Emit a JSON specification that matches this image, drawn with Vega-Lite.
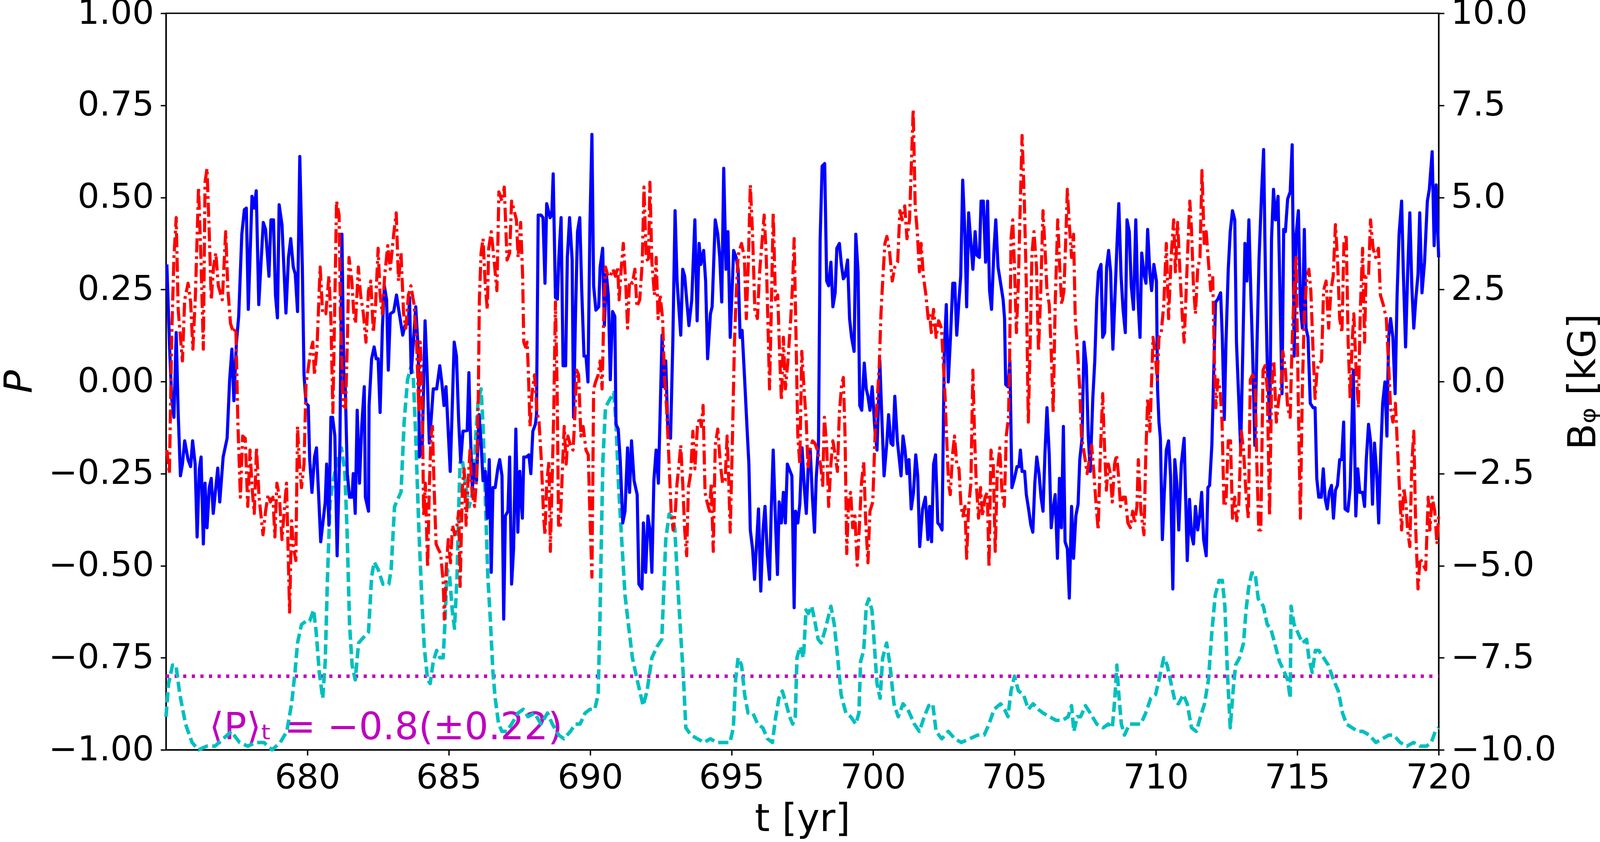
{
  "$schema": "https://vega.github.io/schema/vega-lite/v6.json",
  "width": 3258,
  "height": 1886,
  "autosize": {"type": "none"},
  "padding": {"left": 425, "top": 34, "right": 435, "bottom": 236},
  "background": "white",
  "config": {
    "view": {"stroke": "black", "strokeWidth": 3.5},
    "font": "DejaVu Sans",
    "axis": {
      "grid": false,
      "domainColor": "black",
      "domainWidth": 3.5,
      "tickColor": "black",
      "tickWidth": 3.5,
      "tickSize": 14,
      "labelColor": "black",
      "labelFont": "DejaVu Sans",
      "labelFontSize": 88,
      "labelLimit": 1000,
      "labelFlush": false,
      "labelOverlap": false,
      "titleFont": "DejaVu Sans",
      "titleFontSize": 98,
      "titleFontWeight": "normal",
      "titleColor": "black",
      "titleLimit": 1000,
      "titleBaseline": "alphabetic"
    }
  },
  "datasets": {
    "note": [{"t": 676.53, "v": -0.971, "label": "⟨P⟩ₜ = −0.8(±0.22)"}],
    "mean": [{"t": 675, "v": -0.8}, {"t": 720, "v": -0.8}],
    "polar": [
      {"t":675.00,"v":-0.91},{"t":675.09,"v":-0.82},{"t":675.23,"v":-0.77},{"t":675.35,"v":-0.77},{"t":675.49,"v":-0.85},
      {"t":675.69,"v":-0.93},{"t":675.92,"v":-0.98},{"t":676.15,"v":-1.00},{"t":676.44,"v":-0.99},{"t":676.73,"v":-0.99},
      {"t":677.02,"v":-0.97},{"t":677.31,"v":-0.95},{"t":677.60,"v":-0.98},{"t":677.89,"v":-0.99},{"t":678.17,"v":-0.98},
      {"t":678.46,"v":-0.98},{"t":678.75,"v":-1.00},{"t":679.04,"v":-0.98},{"t":679.27,"v":-0.95},{"t":679.44,"v":-0.875},
      {"t":679.56,"v":-0.79},{"t":679.65,"v":-0.71},{"t":679.79,"v":-0.66},{"t":679.96,"v":-0.65},{"t":680.08,"v":-0.65},
      {"t":680.22,"v":-0.62},{"t":680.31,"v":-0.68},{"t":680.42,"v":-0.79},{"t":680.54,"v":-0.86},{"t":680.63,"v":-0.76},
      {"t":680.71,"v":-0.53},{"t":680.80,"v":-0.33},{"t":680.89,"v":-0.28},{"t":681.03,"v":-0.22},{"t":681.20,"v":-0.18},
      {"t":681.32,"v":-0.24},{"t":681.40,"v":-0.40},{"t":681.49,"v":-0.66},{"t":681.58,"v":-0.77},{"t":681.69,"v":-0.81},
      {"t":681.81,"v":-0.71},{"t":681.92,"v":-0.70},{"t":682.16,"v":-0.68},{"t":682.27,"v":-0.53},{"t":682.36,"v":-0.49},
      {"t":682.50,"v":-0.51},{"t":682.67,"v":-0.55},{"t":682.88,"v":-0.55},{"t":682.96,"v":-0.51},{"t":683.08,"v":-0.34},
      {"t":683.19,"v":-0.32},{"t":683.31,"v":-0.30},{"t":683.42,"v":-0.11},{"t":683.54,"v":0.005},{"t":683.66,"v":0.04},
      {"t":683.74,"v":0.02},{"t":683.83,"v":-0.15},{"t":683.94,"v":-0.40},{"t":684.05,"v":-0.60},{"t":684.13,"v":-0.72},
      {"t":684.25,"v":-0.81},{"t":684.34,"v":-0.82},{"t":684.45,"v":-0.76},{"t":684.57,"v":-0.73},{"t":684.68,"v":-0.75},
      {"t":684.80,"v":-0.75},{"t":684.86,"v":-0.66},{"t":684.94,"v":-0.51},{"t":685.03,"v":-0.53},{"t":685.12,"v":-0.62},
      {"t":685.20,"v":-0.67},{"t":685.29,"v":-0.53},{"t":685.35,"v":-0.34},{"t":685.40,"v":-0.22},{"t":685.49,"v":-0.22},
      {"t":685.61,"v":-0.29},{"t":685.72,"v":-0.34},{"t":685.84,"v":-0.30},{"t":685.95,"v":-0.15},{"t":686.04,"v":-0.05},
      {"t":686.14,"v":-0.02},{"t":686.21,"v":-0.12},{"t":686.30,"v":-0.34},{"t":686.38,"v":-0.53},{"t":686.47,"v":-0.65},
      {"t":686.56,"v":-0.79},{"t":686.64,"v":-0.86},{"t":686.76,"v":-0.93},{"t":686.88,"v":-0.95},{"t":687.05,"v":-0.95},
      {"t":687.22,"v":-0.93},{"t":687.45,"v":-0.90},{"t":687.63,"v":-0.89},{"t":687.80,"v":-0.91},{"t":688.03,"v":-0.90},
      {"t":688.26,"v":-0.93},{"t":688.49,"v":-0.90},{"t":688.66,"v":-0.93},{"t":688.89,"v":-0.96},{"t":689.07,"v":-0.97},
      {"t":689.30,"v":-0.95},{"t":689.47,"v":-0.93},{"t":689.64,"v":-0.93},{"t":689.82,"v":-0.90},{"t":689.99,"v":-0.89},
      {"t":690.16,"v":-0.89},{"t":690.28,"v":-0.85},{"t":690.34,"v":-0.66},{"t":690.40,"v":-0.40},{"t":690.45,"v":-0.21},
      {"t":690.54,"v":-0.07},{"t":690.68,"v":-0.05},{"t":690.83,"v":-0.03},{"t":690.91,"v":-0.11},{"t":691.00,"v":-0.28},
      {"t":691.12,"v":-0.44},{"t":691.23,"v":-0.58},{"t":691.35,"v":-0.66},{"t":691.49,"v":-0.75},{"t":691.66,"v":-0.81},
      {"t":691.87,"v":-0.88},{"t":692.01,"v":-0.84},{"t":692.18,"v":-0.75},{"t":692.36,"v":-0.72},{"t":692.53,"v":-0.70},
      {"t":692.62,"v":-0.53},{"t":692.67,"v":-0.43},{"t":692.79,"v":-0.36},{"t":692.91,"v":-0.37},{"t":692.99,"v":-0.40},
      {"t":693.10,"v":-0.56},{"t":693.21,"v":-0.70},{"t":693.30,"v":-0.81},{"t":693.38,"v":-0.94},{"t":693.56,"v":-0.96},
      {"t":693.79,"v":-0.97},{"t":694.02,"v":-0.98},{"t":694.25,"v":-0.97},{"t":694.48,"v":-0.98},{"t":694.71,"v":-0.98},
      {"t":694.94,"v":-0.98},{"t":695.06,"v":-0.94},{"t":695.14,"v":-0.81},{"t":695.23,"v":-0.75},{"t":695.35,"v":-0.77},
      {"t":695.46,"v":-0.85},{"t":695.58,"v":-0.90},{"t":695.75,"v":-0.90},{"t":695.92,"v":-0.93},{"t":696.10,"v":-0.94},
      {"t":696.27,"v":-0.97},{"t":696.44,"v":-0.98},{"t":696.56,"v":-0.91},{"t":696.67,"v":-0.86},{"t":696.79,"v":-0.84},
      {"t":696.93,"v":-0.875},{"t":697.05,"v":-0.91},{"t":697.16,"v":-0.93},{"t":697.25,"v":-0.91},{"t":697.31,"v":-0.75},
      {"t":697.42,"v":-0.72},{"t":697.54,"v":-0.75},{"t":697.63,"v":-0.62},{"t":697.71,"v":-0.63},{"t":697.83,"v":-0.61},
      {"t":697.94,"v":-0.65},{"t":698.06,"v":-0.70},{"t":698.17,"v":-0.71},{"t":698.32,"v":-0.67},{"t":698.51,"v":-0.61},
      {"t":698.63,"v":-0.66},{"t":698.75,"v":-0.75},{"t":698.87,"v":-0.85},{"t":699.04,"v":-0.90},{"t":699.21,"v":-0.91},
      {"t":699.39,"v":-0.93},{"t":699.50,"v":-0.90},{"t":699.56,"v":-0.76},{"t":699.67,"v":-0.73},{"t":699.76,"v":-0.61},
      {"t":699.85,"v":-0.59},{"t":699.96,"v":-0.62},{"t":700.05,"v":-0.72},{"t":700.14,"v":-0.82},{"t":700.25,"v":-0.86},
      {"t":700.34,"v":-0.75},{"t":700.48,"v":-0.71},{"t":700.60,"v":-0.77},{"t":700.74,"v":-0.875},{"t":700.89,"v":-0.91},
      {"t":701.06,"v":-0.875},{"t":701.23,"v":-0.89},{"t":701.46,"v":-0.93},{"t":701.64,"v":-0.95},{"t":701.81,"v":-0.91},
      {"t":701.97,"v":-0.88},{"t":702.11,"v":-0.875},{"t":702.23,"v":-0.95},{"t":702.43,"v":-0.97},{"t":702.66,"v":-0.95},
      {"t":702.89,"v":-0.97},{"t":703.12,"v":-0.98},{"t":703.41,"v":-0.97},{"t":703.70,"v":-0.96},{"t":703.93,"v":-0.96},
      {"t":704.10,"v":-0.93},{"t":704.28,"v":-0.89},{"t":704.51,"v":-0.875},{"t":704.65,"v":-0.89},{"t":704.77,"v":-0.91},
      {"t":704.88,"v":-0.84},{"t":705.00,"v":-0.80},{"t":705.14,"v":-0.84},{"t":705.32,"v":-0.85},{"t":705.49,"v":-0.89},
      {"t":705.66,"v":-0.875},{"t":705.84,"v":-0.89},{"t":706.01,"v":-0.90},{"t":706.24,"v":-0.91},{"t":706.47,"v":-0.92},
      {"t":706.70,"v":-0.92},{"t":706.90,"v":-0.91},{"t":707.02,"v":-0.88},{"t":707.10,"v":-0.95},{"t":707.22,"v":-0.91},
      {"t":707.34,"v":-0.91},{"t":707.51,"v":-0.88},{"t":707.68,"v":-0.90},{"t":707.91,"v":-0.93},{"t":708.14,"v":-0.94},
      {"t":708.32,"v":-0.93},{"t":708.46,"v":-0.94},{"t":708.55,"v":-0.86},{"t":708.62,"v":-0.77},{"t":708.69,"v":-0.85},
      {"t":708.78,"v":-0.93},{"t":708.89,"v":-0.96},{"t":709.07,"v":-0.93},{"t":709.30,"v":-0.93},{"t":709.47,"v":-0.93},
      {"t":709.64,"v":-0.90},{"t":709.82,"v":-0.86},{"t":709.99,"v":-0.85},{"t":710.14,"v":-0.80},{"t":710.28,"v":-0.75},
      {"t":710.40,"v":-0.77},{"t":710.54,"v":-0.82},{"t":710.68,"v":-0.87},{"t":710.80,"v":-0.875},{"t":710.97,"v":-0.85},
      {"t":711.11,"v":-0.875},{"t":711.26,"v":-0.94},{"t":711.43,"v":-0.95},{"t":711.58,"v":-0.91},{"t":711.72,"v":-0.875},
      {"t":711.86,"v":-0.81},{"t":711.98,"v":-0.68},{"t":712.10,"v":-0.58},{"t":712.24,"v":-0.54},{"t":712.35,"v":-0.54},
      {"t":712.44,"v":-0.61},{"t":712.53,"v":-0.79},{"t":712.63,"v":-0.94},{"t":712.73,"v":-0.84},{"t":712.82,"v":-0.77},
      {"t":712.96,"v":-0.75},{"t":713.10,"v":-0.71},{"t":713.19,"v":-0.62},{"t":713.28,"v":-0.56},{"t":713.39,"v":-0.52},
      {"t":713.51,"v":-0.52},{"t":713.62,"v":-0.59},{"t":713.80,"v":-0.61},{"t":713.94,"v":-0.66},{"t":714.06,"v":-0.67},
      {"t":714.20,"v":-0.71},{"t":714.37,"v":-0.76},{"t":714.55,"v":-0.79},{"t":714.66,"v":-0.81},{"t":714.75,"v":-0.86},
      {"t":714.78,"v":-0.61},{"t":714.89,"v":-0.66},{"t":715.01,"v":-0.68},{"t":715.18,"v":-0.71},{"t":715.33,"v":-0.70},
      {"t":715.41,"v":-0.75},{"t":715.53,"v":-0.79},{"t":715.64,"v":-0.73},{"t":715.76,"v":-0.73},{"t":715.93,"v":-0.75},
      {"t":716.10,"v":-0.77},{"t":716.28,"v":-0.81},{"t":716.45,"v":-0.84},{"t":716.60,"v":-0.90},{"t":716.74,"v":-0.93},
      {"t":716.94,"v":-0.94},{"t":717.14,"v":-0.95},{"t":717.32,"v":-0.95},{"t":717.55,"v":-0.96},{"t":717.78,"v":-0.98},
      {"t":718.01,"v":-0.97},{"t":718.24,"v":-0.96},{"t":718.41,"v":-0.96},{"t":718.64,"v":-0.98},{"t":718.88,"v":-0.99},
      {"t":719.11,"v":-0.98},{"t":719.34,"v":-0.99},{"t":719.57,"v":-0.99},{"t":719.74,"v":-0.98},{"t":719.88,"v":-0.95},
      {"t":720.00,"v":-0.94}
    ],
    "blue": [
      {"t":675.03,"v":3.18},{"t":675.12,"v":1.07},{"t":675.20,"v":-0.46},{"t":675.28,"v":-0.97},{"t":675.36,"v":1.33},
      {"t":675.43,"v":-0.84},{"t":675.51,"v":-2.56},{"t":675.58,"v":-2.24},{"t":675.66,"v":-1.61},{"t":675.78,"v":-2.12},
      {"t":675.87,"v":-2.31},{"t":675.94,"v":-1.61},{"t":676.03,"v":-2.24},{"t":676.10,"v":-4.22},{"t":676.18,"v":-2.37},
      {"t":676.24,"v":-2.05},{"t":676.32,"v":-4.41},{"t":676.38,"v":-2.76},{"t":676.45,"v":-3.97},{"t":676.53,"v":-2.88},
      {"t":676.60,"v":-2.63},{"t":676.67,"v":-3.58},{"t":676.76,"v":-2.88},{"t":676.83,"v":-2.35},{"t":676.90,"v":-3.27},
      {"t":677.02,"v":-2.05},{"t":677.16,"v":-1.54},{"t":677.25,"v":0.05},{"t":677.33,"v":0.88},{"t":677.40,"v":-0.52},
      {"t":677.49,"v":1.07},{"t":677.57,"v":1.77},{"t":677.68,"v":4.00},{"t":677.77,"v":4.67},{"t":677.84,"v":4.71},
      {"t":677.91,"v":1.96},{"t":677.97,"v":3.37},{"t":678.04,"v":5.03},{"t":678.12,"v":4.71},{"t":678.19,"v":5.18},
      {"t":678.28,"v":2.09},{"t":678.36,"v":3.24},{"t":678.44,"v":4.32},{"t":678.52,"v":4.13},{"t":678.64,"v":2.86},
      {"t":678.71,"v":4.39},{"t":678.80,"v":4.39},{"t":678.87,"v":2.35},{"t":678.94,"v":1.73},{"t":679.00,"v":4.80},
      {"t":679.10,"v":4.26},{"t":679.24,"v":1.86},{"t":679.33,"v":3.37},{"t":679.41,"v":3.88},{"t":679.50,"v":3.11},
      {"t":679.57,"v":2.92},{"t":679.65,"v":1.90},{"t":679.73,"v":6.11},{"t":679.82,"v":3.11},{"t":679.88,"v":0.18},
      {"t":679.95,"v":-0.59},{"t":680.03,"v":-0.65},{"t":680.08,"v":-2.12},{"t":680.16,"v":-3.01},{"t":680.25,"v":-2.05},
      {"t":680.32,"v":-1.80},{"t":680.40,"v":-3.14},{"t":680.47,"v":-4.35},{"t":680.63,"v":-3.27},{"t":680.68,"v":-2.24},
      {"t":680.76,"v":-3.90},{"t":680.83,"v":-0.97},{"t":680.89,"v":-0.97},{"t":680.97,"v":-1.48},{"t":681.05,"v":-4.73},
      {"t":681.15,"v":-1.61},{"t":681.22,"v":4.00},{"t":681.29,"v":0.05},{"t":681.34,"v":-0.20},{"t":681.41,"v":-2.50},
      {"t":681.49,"v":-3.14},{"t":681.58,"v":-3.14},{"t":681.62,"v":-2.50},{"t":681.69,"v":-3.58},{"t":681.76,"v":-0.78},
      {"t":681.84,"v":-2.76},{"t":681.92,"v":-1.22},{"t":682.01,"v":-0.14},{"t":682.05,"v":-3.14},{"t":682.16,"v":-3.52},
      {"t":682.18,"v":-0.65},{"t":682.27,"v":0.62},{"t":682.36,"v":0.94},{"t":682.43,"v":0.62},{"t":682.50,"v":0.62},
      {"t":682.57,"v":-0.84},{"t":682.65,"v":1.45},{"t":682.72,"v":2.60},{"t":682.80,"v":2.22},{"t":682.86,"v":0.31},
      {"t":682.93,"v":1.84},{"t":683.05,"v":1.90},{"t":683.15,"v":2.35},{"t":683.25,"v":1.84},{"t":683.37,"v":1.26},
      {"t":683.45,"v":1.52},{"t":683.57,"v":1.58},{"t":683.61,"v":2.28},{"t":683.67,"v":0.24},{"t":683.77,"v":1.33},
      {"t":683.83,"v":2.03},{"t":683.92,"v":0.82},{"t":683.96,"v":-2.05},{"t":684.06,"v":-1.73},{"t":684.16,"v":1.65},
      {"t":684.23,"v":0.31},{"t":684.31,"v":-1.67},{"t":684.38,"v":-0.97},{"t":684.45,"v":-0.20},{"t":684.57,"v":-0.20},
      {"t":684.68,"v":0.43},{"t":684.76,"v":-0.08},{"t":684.83,"v":-0.65},{"t":684.90,"v":-0.14},{"t":684.97,"v":-1.22},
      {"t":685.05,"v":-2.44},{"t":685.12,"v":-0.71},{"t":685.19,"v":1.07},{"t":685.27,"v":0.69},{"t":685.35,"v":-1.10},
      {"t":685.42,"v":-2.18},{"t":685.50,"v":-1.35},{"t":685.65,"v":-1.33},{"t":685.71,"v":0.24},{"t":685.75,"v":-1.10},
      {"t":685.83,"v":-2.95},{"t":685.89,"v":-2.24},{"t":685.98,"v":-2.69},{"t":686.07,"v":-0.90},{"t":686.14,"v":-1.67},
      {"t":686.21,"v":-2.69},{"t":686.29,"v":-2.44},{"t":686.36,"v":-3.71},{"t":686.43,"v":-2.12},{"t":686.50,"v":-5.18},
      {"t":686.56,"v":-2.88},{"t":686.64,"v":-2.88},{"t":686.73,"v":-2.37},{"t":686.80,"v":-2.12},{"t":686.88,"v":-2.56},
      {"t":686.94,"v":-6.45},{"t":687.00,"v":-3.65},{"t":687.09,"v":-3.52},{"t":687.15,"v":-2.05},{"t":687.22,"v":-5.50},
      {"t":687.29,"v":-4.54},{"t":687.37,"v":-1.29},{"t":687.44,"v":-4.09},{"t":687.51,"v":-2.44},{"t":687.60,"v":-3.71},
      {"t":687.65,"v":-2.05},{"t":687.74,"v":-2.05},{"t":687.83,"v":-1.99},{"t":687.90,"v":-2.50},{"t":687.97,"v":-1.35},
      {"t":688.06,"v":-1.16},{"t":688.10,"v":-0.90},{"t":688.16,"v":4.52},{"t":688.26,"v":4.52},{"t":688.33,"v":4.45},
      {"t":688.40,"v":2.67},{"t":688.46,"v":4.83},{"t":688.58,"v":4.45},{"t":688.64,"v":4.52},{"t":688.69,"v":5.64},
      {"t":688.77,"v":2.28},{"t":688.84,"v":2.24},{"t":688.89,"v":3.37},{"t":688.97,"v":4.45},{"t":689.04,"v":0.43},
      {"t":689.13,"v":0.43},{"t":689.19,"v":3.37},{"t":689.27,"v":4.45},{"t":689.36,"v":3.30},{"t":689.41,"v":-0.97},
      {"t":689.48,"v":1.84},{"t":689.55,"v":4.07},{"t":689.63,"v":4.45},{"t":689.70,"v":2.47},{"t":689.78,"v":0.69},
      {"t":689.85,"v":0.69},{"t":689.92,"v":-0.01},{"t":689.99,"v":4.26},{"t":690.06,"v":6.71},{"t":690.12,"v":2.60},
      {"t":690.20,"v":1.94},{"t":690.30,"v":2.03},{"t":690.35,"v":3.11},{"t":690.44,"v":3.62},{"t":690.50,"v":1.52},
      {"t":690.57,"v":2.92},{"t":690.64,"v":2.35},{"t":690.71,"v":0.05},{"t":690.79,"v":1.90},{"t":690.87,"v":1.77},
      {"t":690.91,"v":-1.16},{"t":690.99,"v":-1.29},{"t":691.06,"v":-2.12},{"t":691.15,"v":-3.84},{"t":691.23,"v":-3.52},
      {"t":691.32,"v":-1.80},{"t":691.39,"v":-3.01},{"t":691.46,"v":-1.61},{"t":691.55,"v":-2.69},{"t":691.66,"v":-3.07},
      {"t":691.72,"v":-5.50},{"t":691.83,"v":-5.63},{"t":691.88,"v":-3.84},{"t":691.96,"v":-5.18},{"t":692.04,"v":-3.65},
      {"t":692.11,"v":-4.03},{"t":692.18,"v":-5.18},{"t":692.25,"v":-2.69},{"t":692.33,"v":-1.86},{"t":692.41,"v":-2.76},
      {"t":692.54,"v":1.26},{"t":692.60,"v":-0.14},{"t":692.67,"v":0.56},{"t":692.74,"v":-1.22},{"t":692.84,"v":-1.54},
      {"t":692.92,"v":1.07},{"t":693.00,"v":4.64},{"t":693.07,"v":2.73},{"t":693.20,"v":1.26},{"t":693.27,"v":3.05},
      {"t":693.34,"v":2.86},{"t":693.41,"v":2.22},{"t":693.49,"v":1.52},{"t":693.59,"v":2.22},{"t":693.70,"v":4.39},
      {"t":693.78,"v":1.65},{"t":693.85,"v":3.75},{"t":693.91,"v":3.18},{"t":694.01,"v":3.56},{"t":694.08,"v":2.73},
      {"t":694.15,"v":0.62},{"t":694.25,"v":1.84},{"t":694.31,"v":2.03},{"t":694.42,"v":4.39},{"t":694.51,"v":4.00},
      {"t":694.58,"v":3.37},{"t":694.65,"v":2.16},{"t":694.72,"v":5.79},{"t":694.80,"v":3.05},{"t":694.87,"v":4.07},
      {"t":694.95,"v":1.20},{"t":695.07,"v":3.56},{"t":695.16,"v":3.37},{"t":695.23,"v":3.05},{"t":695.30,"v":1.20},
      {"t":695.37,"v":1.39},{"t":695.46,"v":0.05},{"t":695.55,"v":-1.35},{"t":695.61,"v":-2.24},{"t":695.66,"v":-4.03},
      {"t":695.74,"v":-4.54},{"t":695.81,"v":-5.37},{"t":695.89,"v":-4.29},{"t":695.95,"v":-3.46},{"t":696.03,"v":-5.69},
      {"t":696.11,"v":-4.03},{"t":696.18,"v":-3.39},{"t":696.26,"v":-4.67},{"t":696.34,"v":-5.37},{"t":696.40,"v":-3.52},
      {"t":696.47,"v":-1.86},{"t":696.55,"v":-3.78},{"t":696.62,"v":-5.24},{"t":696.68,"v":-3.27},{"t":696.76,"v":-3.84},
      {"t":696.83,"v":-3.01},{"t":696.90,"v":-3.84},{"t":696.97,"v":-2.24},{"t":697.07,"v":-2.44},{"t":697.13,"v":-2.56},
      {"t":697.21,"v":-6.14},{"t":697.26,"v":-3.52},{"t":697.34,"v":-3.84},{"t":697.41,"v":-3.33},{"t":697.49,"v":-1.80},
      {"t":697.57,"v":-2.88},{"t":697.64,"v":-3.58},{"t":697.71,"v":-2.24},{"t":697.78,"v":-1.86},{"t":697.86,"v":-3.20},
      {"t":697.93,"v":-4.09},{"t":697.99,"v":-2.63},{"t":698.07,"v":-1.73},{"t":698.13,"v":3.88},{"t":698.20,"v":5.85},
      {"t":698.29,"v":5.92},{"t":698.36,"v":2.73},{"t":698.43,"v":2.60},{"t":698.51,"v":3.24},{"t":698.58,"v":2.03},
      {"t":698.66,"v":2.41},{"t":698.72,"v":3.62},{"t":698.81,"v":3.75},{"t":698.88,"v":3.18},{"t":698.95,"v":2.79},
      {"t":699.01,"v":2.86},{"t":699.10,"v":3.30},{"t":699.17,"v":1.71},{"t":699.24,"v":1.20},{"t":699.33,"v":0.82},
      {"t":699.39,"v":4.00},{"t":699.47,"v":2.98},{"t":699.53,"v":-0.65},{"t":699.60,"v":-0.78},{"t":699.69,"v":0.50},
      {"t":699.76,"v":-0.20},{"t":699.82,"v":-0.40},{"t":699.89,"v":-0.78},{"t":699.97,"v":-0.14},{"t":700.07,"v":-1.35},
      {"t":700.14,"v":-1.86},{"t":700.24,"v":0.56},{"t":700.31,"v":-0.97},{"t":700.39,"v":-2.56},{"t":700.48,"v":-1.73},
      {"t":700.55,"v":-0.90},{"t":700.63,"v":-1.67},{"t":700.70,"v":-1.73},{"t":700.77,"v":-0.40},{"t":700.86,"v":-1.61},
      {"t":700.92,"v":-2.05},{"t":700.99,"v":-2.56},{"t":701.06,"v":-1.48},{"t":701.13,"v":-1.86},{"t":701.20,"v":-2.50},
      {"t":701.27,"v":-2.12},{"t":701.35,"v":-3.46},{"t":701.43,"v":-3.01},{"t":701.51,"v":-1.99},{"t":701.58,"v":-2.56},
      {"t":701.65,"v":-4.48},{"t":701.75,"v":-3.46},{"t":701.85,"v":-3.14},{"t":701.94,"v":-4.29},{"t":702.00,"v":-3.39},
      {"t":702.07,"v":-4.35},{"t":702.14,"v":-2.24},{"t":702.21,"v":-1.99},{"t":702.29,"v":-3.84},{"t":702.36,"v":-3.90},
      {"t":702.44,"v":-4.03},{"t":702.52,"v":0.82},{"t":702.59,"v":2.09},{"t":702.66,"v":-0.01},{"t":702.73,"v":1.07},
      {"t":702.82,"v":2.67},{"t":702.89,"v":2.67},{"t":702.96,"v":1.26},{"t":703.04,"v":2.22},{"t":703.10,"v":2.86},
      {"t":703.17,"v":5.47},{"t":703.25,"v":4.00},{"t":703.31,"v":2.03},{"t":703.38,"v":4.58},{"t":703.46,"v":3.75},
      {"t":703.53,"v":3.05},{"t":703.61,"v":4.07},{"t":703.67,"v":3.43},{"t":703.76,"v":3.37},{"t":703.82,"v":4.90},
      {"t":703.90,"v":4.90},{"t":703.98,"v":3.24},{"t":704.05,"v":4.90},{"t":704.12,"v":2.47},{"t":704.19,"v":1.96},
      {"t":704.27,"v":3.49},{"t":704.34,"v":4.39},{"t":704.42,"v":3.11},{"t":704.51,"v":2.67},{"t":704.60,"v":2.22},
      {"t":704.65,"v":1.71},{"t":704.69,"v":-0.08},{"t":704.77,"v":-0.14},{"t":704.84,"v":0.56},{"t":704.91,"v":-2.88},
      {"t":705.00,"v":-2.63},{"t":705.09,"v":-2.31},{"t":705.16,"v":-2.31},{"t":705.21,"v":-1.86},{"t":705.27,"v":-2.44},
      {"t":705.36,"v":-2.44},{"t":705.42,"v":-3.07},{"t":705.50,"v":-3.46},{"t":705.58,"v":-3.90},{"t":705.65,"v":-4.09},
      {"t":705.72,"v":-2.76},{"t":705.79,"v":-2.05},{"t":705.87,"v":-2.50},{"t":705.94,"v":-3.14},{"t":706.01,"v":-3.52},
      {"t":706.08,"v":-1.93},{"t":706.15,"v":-0.71},{"t":706.23,"v":-1.99},{"t":706.30,"v":-3.97},{"t":706.37,"v":-3.46},
      {"t":706.44,"v":-3.07},{"t":706.52,"v":-4.80},{"t":706.59,"v":-2.63},{"t":706.66,"v":-3.97},{"t":706.73,"v":-1.22},
      {"t":706.79,"v":-4.35},{"t":706.87,"v":-4.54},{"t":706.94,"v":-5.88},{"t":707.02,"v":-3.39},{"t":707.09,"v":-4.80},
      {"t":707.17,"v":-3.65},{"t":707.25,"v":-3.33},{"t":707.31,"v":-2.12},{"t":707.39,"v":-1.54},{"t":707.46,"v":1.07},
      {"t":707.54,"v":0.43},{"t":707.61,"v":-1.48},{"t":707.68,"v":-2.44},{"t":707.77,"v":-0.46},{"t":707.84,"v":0.56},
      {"t":707.91,"v":2.22},{"t":707.97,"v":2.98},{"t":708.06,"v":3.18},{"t":708.12,"v":1.20},{"t":708.19,"v":1.33},
      {"t":708.26,"v":3.11},{"t":708.33,"v":3.56},{"t":708.40,"v":2.98},{"t":708.48,"v":0.88},{"t":708.55,"v":2.22},
      {"t":708.62,"v":3.62},{"t":708.69,"v":4.83},{"t":708.77,"v":2.86},{"t":708.84,"v":1.96},{"t":708.92,"v":1.33},
      {"t":708.98,"v":4.39},{"t":709.06,"v":4.07},{"t":709.13,"v":2.60},{"t":709.21,"v":1.96},{"t":709.29,"v":4.39},
      {"t":709.36,"v":2.35},{"t":709.44,"v":1.20},{"t":709.50,"v":3.49},{"t":709.58,"v":2.92},{"t":709.65,"v":2.67},
      {"t":709.71,"v":4.13},{"t":709.79,"v":2.92},{"t":709.85,"v":2.47},{"t":709.93,"v":3.18},{"t":710.02,"v":2.73},
      {"t":710.06,"v":-0.20},{"t":710.11,"v":-1.10},{"t":710.16,"v":-1.54},{"t":710.23,"v":-4.29},{"t":710.30,"v":-3.01},
      {"t":710.37,"v":-1.86},{"t":710.45,"v":-1.61},{"t":710.52,"v":-2.56},{"t":710.60,"v":-5.63},{"t":710.67,"v":-2.12},
      {"t":710.74,"v":-2.76},{"t":710.81,"v":-4.03},{"t":710.90,"v":-2.24},{"t":711.00,"v":-1.54},{"t":711.11,"v":-4.86},
      {"t":711.19,"v":-3.20},{"t":711.26,"v":-4.16},{"t":711.33,"v":-4.41},{"t":711.40,"v":-3.39},{"t":711.48,"v":-4.03},
      {"t":711.55,"v":-3.65},{"t":711.62,"v":-3.01},{"t":711.69,"v":-4.29},{"t":711.78,"v":-4.73},{"t":711.84,"v":-2.88},
      {"t":711.90,"v":-2.82},{"t":711.98,"v":-1.73},{"t":712.04,"v":0.05},{"t":712.11,"v":2.16},{"t":712.18,"v":2.22},
      {"t":712.29,"v":2.41},{"t":712.35,"v":1.20},{"t":712.42,"v":-1.03},{"t":712.48,"v":1.07},{"t":712.56,"v":3.05},
      {"t":712.63,"v":4.07},{"t":712.71,"v":4.64},{"t":712.79,"v":4.39},{"t":712.85,"v":1.07},{"t":712.93,"v":-0.46},
      {"t":713.00,"v":-1.86},{"t":713.08,"v":1.07},{"t":713.15,"v":3.75},{"t":713.22,"v":2.73},{"t":713.29,"v":4.39},
      {"t":713.36,"v":2.35},{"t":713.42,"v":0.82},{"t":713.50,"v":-1.73},{"t":713.57,"v":0.82},{"t":713.65,"v":3.37},
      {"t":713.74,"v":5.15},{"t":713.81,"v":6.30},{"t":713.88,"v":2.60},{"t":713.94,"v":0.43},{"t":714.03,"v":-1.10},
      {"t":714.09,"v":3.88},{"t":714.16,"v":5.22},{"t":714.23,"v":4.39},{"t":714.32,"v":5.03},{"t":714.39,"v":2.35},
      {"t":714.46,"v":-0.33},{"t":714.52,"v":4.13},{"t":714.58,"v":4.07},{"t":714.66,"v":4.96},{"t":714.75,"v":5.15},
      {"t":714.82,"v":6.43},{"t":714.89,"v":0.69},{"t":714.96,"v":4.00},{"t":715.04,"v":4.64},{"t":715.11,"v":2.09},
      {"t":715.18,"v":1.45},{"t":715.25,"v":4.13},{"t":715.31,"v":1.45},{"t":715.38,"v":1.20},{"t":715.46,"v":-0.59},
      {"t":715.56,"v":-0.71},{"t":715.63,"v":-0.71},{"t":715.69,"v":-2.63},{"t":715.76,"v":-3.14},{"t":715.85,"v":-3.14},
      {"t":715.92,"v":-2.37},{"t":715.99,"v":-3.20},{"t":716.06,"v":-3.46},{"t":716.13,"v":-3.01},{"t":716.21,"v":-2.82},
      {"t":716.28,"v":-3.71},{"t":716.35,"v":-2.95},{"t":716.42,"v":-2.82},{"t":716.50,"v":-2.12},{"t":716.57,"v":-2.12},
      {"t":716.64,"v":-1.10},{"t":716.69,"v":-3.46},{"t":716.79,"v":-3.52},{"t":716.87,"v":-2.88},{"t":716.93,"v":-1.22},
      {"t":716.98,"v":0.31},{"t":717.07,"v":-3.65},{"t":717.14,"v":-2.37},{"t":717.21,"v":-3.01},{"t":717.31,"v":-3.01},
      {"t":717.38,"v":-3.39},{"t":717.44,"v":-2.12},{"t":717.52,"v":-1.16},{"t":717.59,"v":-1.61},{"t":717.66,"v":-3.33},
      {"t":717.73,"v":-1.67},{"t":717.81,"v":-2.50},{"t":717.88,"v":-3.84},{"t":717.95,"v":-1.99},{"t":718.02,"v":-0.59},
      {"t":718.10,"v":-0.01},{"t":718.17,"v":-1.48},{"t":718.23,"v":1.20},{"t":718.30,"v":1.71},{"t":718.38,"v":1.20},
      {"t":718.46,"v":-0.33},{"t":718.53,"v":2.35},{"t":718.60,"v":4.00},{"t":718.69,"v":4.90},{"t":718.75,"v":2.98},
      {"t":718.83,"v":0.94},{"t":718.90,"v":2.86},{"t":718.98,"v":4.58},{"t":719.05,"v":2.60},{"t":719.12,"v":1.45},
      {"t":719.19,"v":2.22},{"t":719.27,"v":2.92},{"t":719.33,"v":4.58},{"t":719.41,"v":2.41},{"t":719.50,"v":3.24},
      {"t":719.60,"v":4.90},{"t":719.67,"v":5.22},{"t":719.77,"v":6.24},{"t":719.84,"v":3.69},{"t":719.91,"v":5.34},
      {"t":720.00,"v":3.37}
    ],
    "red": [
      {"t":675.03,"v":-1.86},{"t":675.12,"v":-2.50},{"t":675.20,"v":1.20},{"t":675.28,"v":3.37},{"t":675.36,"v":4.45},
      {"t":675.43,"v":1.96},{"t":675.51,"v":1.20},{"t":675.58,"v":0.56},{"t":675.66,"v":2.22},{"t":675.78,"v":2.67},
      {"t":675.87,"v":2.16},{"t":675.95,"v":0.88},{"t":676.04,"v":2.35},{"t":676.15,"v":5.28},{"t":676.24,"v":3.24},
      {"t":676.32,"v":0.88},{"t":676.38,"v":5.41},{"t":676.45,"v":5.79},{"t":676.53,"v":4.00},{"t":676.60,"v":2.22},
      {"t":676.68,"v":3.11},{"t":676.76,"v":3.49},{"t":676.85,"v":2.60},{"t":676.99,"v":2.22},{"t":677.11,"v":4.07},
      {"t":677.19,"v":2.47},{"t":677.28,"v":1.58},{"t":677.38,"v":1.33},{"t":677.47,"v":1.45},{"t":677.54,"v":-1.10},
      {"t":677.63,"v":-3.14},{"t":677.71,"v":-1.48},{"t":677.80,"v":-1.54},{"t":677.89,"v":-3.39},{"t":677.97,"v":-1.86},
      {"t":678.05,"v":-2.95},{"t":678.12,"v":-3.58},{"t":678.20,"v":-1.80},{"t":678.29,"v":-3.14},{"t":678.43,"v":-4.16},
      {"t":678.52,"v":-3.52},{"t":678.61,"v":-3.07},{"t":678.69,"v":-3.27},{"t":678.78,"v":-3.14},{"t":678.85,"v":-4.22},
      {"t":678.92,"v":-2.76},{"t":679.01,"v":-3.14},{"t":679.10,"v":-4.29},{"t":679.18,"v":-3.52},{"t":679.26,"v":-2.76},
      {"t":679.32,"v":-4.67},{"t":679.37,"v":-6.26},{"t":679.44,"v":-3.78},{"t":679.51,"v":-4.54},{"t":679.59,"v":-4.86},
      {"t":679.65,"v":-1.22},{"t":679.72,"v":-2.24},{"t":679.79,"v":-2.88},{"t":679.88,"v":-2.24},{"t":679.95,"v":-0.08},
      {"t":680.02,"v":0.31},{"t":680.11,"v":0.82},{"t":680.19,"v":1.07},{"t":680.25,"v":0.18},{"t":680.34,"v":0.94},
      {"t":680.45,"v":3.11},{"t":680.54,"v":1.84},{"t":680.65,"v":1.84},{"t":680.76,"v":2.86},{"t":680.83,"v":1.71},
      {"t":680.90,"v":-0.84},{"t":680.97,"v":2.22},{"t":681.03,"v":4.90},{"t":681.12,"v":4.52},{"t":681.17,"v":1.71},
      {"t":681.26,"v":-0.65},{"t":681.35,"v":-0.71},{"t":681.42,"v":1.33},{"t":681.47,"v":3.37},{"t":681.57,"v":2.73},
      {"t":681.64,"v":1.84},{"t":681.70,"v":1.58},{"t":681.80,"v":3.11},{"t":681.88,"v":2.35},{"t":681.98,"v":1.84},
      {"t":682.07,"v":1.07},{"t":682.16,"v":2.47},{"t":682.24,"v":2.73},{"t":682.33,"v":1.33},{"t":682.41,"v":2.09},
      {"t":682.50,"v":3.62},{"t":682.57,"v":2.35},{"t":682.65,"v":1.84},{"t":682.73,"v":2.86},{"t":682.84,"v":3.69},
      {"t":682.93,"v":3.05},{"t":683.05,"v":4.00},{"t":683.14,"v":4.58},{"t":683.22,"v":2.73},{"t":683.31,"v":3.49},
      {"t":683.40,"v":1.84},{"t":683.48,"v":1.45},{"t":683.57,"v":2.35},{"t":683.66,"v":2.60},{"t":683.77,"v":2.09},
      {"t":683.86,"v":1.07},{"t":683.94,"v":-0.84},{"t":683.99,"v":1.07},{"t":684.06,"v":-0.59},{"t":684.11,"v":-3.65},
      {"t":684.17,"v":-2.76},{"t":684.25,"v":-5.05},{"t":684.31,"v":-2.88},{"t":684.37,"v":-1.48},{"t":684.42,"v":-1.22},
      {"t":684.48,"v":-2.88},{"t":684.55,"v":-4.41},{"t":684.62,"v":-4.54},{"t":684.71,"v":-4.67},{"t":684.80,"v":-5.43},
      {"t":684.84,"v":-6.45},{"t":684.91,"v":-5.05},{"t":684.98,"v":-4.29},{"t":685.06,"v":-4.92},{"t":685.13,"v":-3.90},
      {"t":685.21,"v":-4.16},{"t":685.29,"v":-3.90},{"t":685.35,"v":-3.52},{"t":685.40,"v":-5.56},{"t":685.48,"v":-2.88},
      {"t":685.54,"v":-2.37},{"t":685.61,"v":-3.90},{"t":685.67,"v":-2.88},{"t":685.75,"v":-1.86},{"t":685.82,"v":-3.01},
      {"t":685.91,"v":-3.39},{"t":685.98,"v":-2.63},{"t":686.04,"v":-0.59},{"t":686.08,"v":2.22},{"t":686.14,"v":3.49},
      {"t":686.21,"v":3.88},{"t":686.29,"v":2.60},{"t":686.36,"v":1.96},{"t":686.41,"v":3.62},{"t":686.50,"v":4.07},
      {"t":686.59,"v":3.37},{"t":686.70,"v":2.47},{"t":686.77,"v":5.15},{"t":686.88,"v":4.90},{"t":686.96,"v":5.28},
      {"t":687.06,"v":3.30},{"t":687.15,"v":3.49},{"t":687.22,"v":4.90},{"t":687.31,"v":4.64},{"t":687.39,"v":4.39},
      {"t":687.45,"v":3.37},{"t":687.54,"v":4.32},{"t":687.61,"v":2.86},{"t":687.65,"v":1.07},{"t":687.71,"v":0.94},
      {"t":687.77,"v":1.07},{"t":687.81,"v":0.31},{"t":687.87,"v":-1.22},{"t":687.94,"v":-0.33},{"t":688.03,"v":0.18},
      {"t":688.12,"v":-0.84},{"t":688.19,"v":-1.10},{"t":688.27,"v":-2.12},{"t":688.35,"v":-3.65},{"t":688.40,"v":-4.16},
      {"t":688.46,"v":-2.76},{"t":688.54,"v":-2.18},{"t":688.59,"v":-4.61},{"t":688.65,"v":-2.76},{"t":688.71,"v":-0.84},
      {"t":688.77,"v":2.16},{"t":688.83,"v":-0.20},{"t":688.88,"v":-3.90},{"t":688.94,"v":-3.90},{"t":689.01,"v":-2.50},
      {"t":689.08,"v":-1.22},{"t":689.15,"v":-2.24},{"t":689.21,"v":-1.48},{"t":689.30,"v":-1.73},{"t":689.39,"v":-1.86},
      {"t":689.44,"v":-1.22},{"t":689.52,"v":0.31},{"t":689.59,"v":0.18},{"t":689.67,"v":-1.48},{"t":689.75,"v":-1.22},
      {"t":689.85,"v":-1.86},{"t":689.93,"v":-1.99},{"t":689.99,"v":-3.65},{"t":690.06,"v":-5.31},{"t":690.12,"v":-0.20},
      {"t":690.19,"v":-0.01},{"t":690.28,"v":0.18},{"t":690.35,"v":0.56},{"t":690.42,"v":-0.20},{"t":690.48,"v":1.84},
      {"t":690.54,"v":3.11},{"t":690.63,"v":2.86},{"t":690.71,"v":2.86},{"t":690.80,"v":3.05},{"t":690.89,"v":2.86},
      {"t":690.97,"v":3.11},{"t":691.02,"v":2.22},{"t":691.10,"v":3.11},{"t":691.17,"v":3.75},{"t":691.26,"v":2.60},
      {"t":691.32,"v":1.45},{"t":691.39,"v":2.73},{"t":691.49,"v":2.67},{"t":691.58,"v":3.05},{"t":691.65,"v":2.03},
      {"t":691.75,"v":2.22},{"t":691.84,"v":3.24},{"t":691.90,"v":5.28},{"t":691.98,"v":3.37},{"t":692.06,"v":3.24},
      {"t":692.11,"v":5.41},{"t":692.18,"v":3.24},{"t":692.27,"v":2.35},{"t":692.33,"v":3.37},{"t":692.40,"v":1.71},
      {"t":692.47,"v":2.35},{"t":692.56,"v":1.71},{"t":692.62,"v":0.18},{"t":692.70,"v":-0.71},{"t":692.79,"v":-2.24},
      {"t":692.86,"v":-3.52},{"t":692.93,"v":-4.03},{"t":693.01,"v":-3.52},{"t":693.07,"v":-2.76},{"t":693.14,"v":-2.24},
      {"t":693.20,"v":-1.73},{"t":693.27,"v":-2.76},{"t":693.34,"v":-4.03},{"t":693.41,"v":-4.73},{"t":693.47,"v":-2.88},
      {"t":693.55,"v":-2.50},{"t":693.63,"v":-1.35},{"t":693.70,"v":-2.37},{"t":693.79,"v":-1.22},{"t":693.87,"v":-0.97},
      {"t":693.93,"v":-1.22},{"t":693.99,"v":-0.65},{"t":694.06,"v":-3.01},{"t":694.13,"v":-3.27},{"t":694.22,"v":-3.52},
      {"t":694.28,"v":-2.76},{"t":694.35,"v":-4.61},{"t":694.42,"v":-1.73},{"t":694.51,"v":-1.29},{"t":694.60,"v":-2.24},
      {"t":694.68,"v":-2.76},{"t":694.77,"v":-2.69},{"t":694.84,"v":-1.48},{"t":694.90,"v":-2.76},{"t":694.95,"v":-4.09},
      {"t":695.03,"v":-1.48},{"t":695.10,"v":1.07},{"t":695.16,"v":2.35},{"t":695.23,"v":3.43},{"t":695.35,"v":3.75},
      {"t":695.45,"v":3.37},{"t":695.52,"v":1.71},{"t":695.59,"v":3.24},{"t":695.66,"v":5.34},{"t":695.74,"v":4.00},
      {"t":695.82,"v":1.96},{"t":695.91,"v":1.71},{"t":695.99,"v":2.98},{"t":696.07,"v":3.75},{"t":696.15,"v":4.52},
      {"t":696.22,"v":3.49},{"t":696.30,"v":1.07},{"t":696.34,"v":-0.20},{"t":696.40,"v":1.84},{"t":696.47,"v":4.58},
      {"t":696.55,"v":2.22},{"t":696.63,"v":2.35},{"t":696.70,"v":0.69},{"t":696.76,"v":-0.52},{"t":696.83,"v":1.20},
      {"t":696.90,"v":-0.20},{"t":696.99,"v":0.56},{"t":697.09,"v":1.71},{"t":697.16,"v":2.73},{"t":697.21,"v":3.88},
      {"t":697.28,"v":1.07},{"t":697.34,"v":-1.48},{"t":697.41,"v":-2.24},{"t":697.48,"v":0.82},{"t":697.57,"v":-0.33},
      {"t":697.64,"v":-1.10},{"t":697.70,"v":-2.37},{"t":697.77,"v":-1.86},{"t":697.86,"v":-1.61},{"t":697.94,"v":-1.67},
      {"t":698.03,"v":-1.86},{"t":698.14,"v":-2.24},{"t":698.22,"v":-2.82},{"t":698.28,"v":-0.97},{"t":698.36,"v":-1.73},
      {"t":698.43,"v":-3.39},{"t":698.51,"v":-2.24},{"t":698.58,"v":-1.61},{"t":698.66,"v":-1.99},{"t":698.74,"v":-2.44},
      {"t":698.81,"v":-0.84},{"t":698.89,"v":-0.08},{"t":698.95,"v":0.11},{"t":699.01,"v":-1.48},{"t":699.07,"v":-4.67},
      {"t":699.14,"v":-3.14},{"t":699.21,"v":-3.01},{"t":699.28,"v":-3.97},{"t":699.36,"v":-3.65},{"t":699.44,"v":-4.99},
      {"t":699.51,"v":-4.03},{"t":699.59,"v":-2.76},{"t":699.67,"v":-2.18},{"t":699.74,"v":-3.78},{"t":699.82,"v":-4.92},
      {"t":699.89,"v":-3.52},{"t":699.99,"v":-3.27},{"t":700.07,"v":-1.48},{"t":700.14,"v":-0.59},{"t":700.22,"v":0.43},
      {"t":700.28,"v":1.84},{"t":700.35,"v":2.86},{"t":700.42,"v":3.75},{"t":700.49,"v":3.94},{"t":700.59,"v":3.49},
      {"t":700.68,"v":2.73},{"t":700.77,"v":3.11},{"t":700.87,"v":3.24},{"t":700.95,"v":4.64},{"t":701.03,"v":4.39},
      {"t":701.12,"v":4.77},{"t":701.20,"v":3.88},{"t":701.29,"v":4.39},{"t":701.35,"v":5.79},{"t":701.42,"v":7.39},
      {"t":701.49,"v":4.77},{"t":701.57,"v":4.00},{"t":701.64,"v":2.98},{"t":701.70,"v":3.75},{"t":701.78,"v":2.86},
      {"t":701.87,"v":2.35},{"t":701.95,"v":1.71},{"t":702.00,"v":1.84},{"t":702.06,"v":1.33},{"t":702.14,"v":1.96},
      {"t":702.23,"v":1.20},{"t":702.32,"v":1.65},{"t":702.42,"v":1.45},{"t":702.49,"v":0.43},{"t":702.55,"v":-0.46},
      {"t":702.60,"v":-1.48},{"t":702.67,"v":-2.76},{"t":702.73,"v":-3.07},{"t":702.81,"v":-1.99},{"t":702.88,"v":-1.48},
      {"t":702.96,"v":-2.24},{"t":703.04,"v":-2.37},{"t":703.11,"v":-3.39},{"t":703.18,"v":-3.65},{"t":703.25,"v":-3.39},
      {"t":703.31,"v":-4.80},{"t":703.38,"v":-3.39},{"t":703.46,"v":-2.76},{"t":703.53,"v":0.31},{"t":703.59,"v":-1.48},
      {"t":703.65,"v":-2.76},{"t":703.73,"v":-3.71},{"t":703.80,"v":-2.88},{"t":703.87,"v":-3.65},{"t":703.96,"v":-3.14},
      {"t":704.04,"v":-3.01},{"t":704.10,"v":-5.05},{"t":704.17,"v":-1.86},{"t":704.25,"v":-2.24},{"t":704.32,"v":-4.61},
      {"t":704.39,"v":-2.50},{"t":704.48,"v":-1.80},{"t":704.56,"v":-3.01},{"t":704.64,"v":-3.39},{"t":704.71,"v":-1.48},
      {"t":704.79,"v":-0.97},{"t":704.83,"v":0.69},{"t":704.88,"v":3.88},{"t":704.94,"v":4.39},{"t":705.00,"v":3.11},
      {"t":705.07,"v":1.33},{"t":705.14,"v":2.73},{"t":705.20,"v":4.64},{"t":705.27,"v":6.68},{"t":705.35,"v":4.90},
      {"t":705.42,"v":2.60},{"t":705.49,"v":-1.10},{"t":705.55,"v":0.82},{"t":705.62,"v":3.49},{"t":705.69,"v":4.07},
      {"t":705.78,"v":3.11},{"t":705.85,"v":0.82},{"t":705.92,"v":2.22},{"t":706.01,"v":4.64},{"t":706.08,"v":3.62},
      {"t":706.15,"v":2.47},{"t":706.23,"v":2.09},{"t":706.30,"v":0.82},{"t":706.37,"v":-0.84},{"t":706.44,"v":2.09},
      {"t":706.53,"v":4.39},{"t":706.60,"v":3.11},{"t":706.67,"v":2.09},{"t":706.75,"v":2.47},{"t":706.82,"v":4.00},
      {"t":706.87,"v":5.22},{"t":706.94,"v":4.26},{"t":707.02,"v":3.37},{"t":707.09,"v":4.00},{"t":707.15,"v":1.71},
      {"t":707.23,"v":0.82},{"t":707.31,"v":-0.20},{"t":707.37,"v":-1.48},{"t":707.42,"v":-1.73},{"t":707.50,"v":-2.12},
      {"t":707.57,"v":-2.50},{"t":707.65,"v":-2.12},{"t":707.73,"v":-1.73},{"t":707.81,"v":-2.50},{"t":707.88,"v":-3.27},
      {"t":707.96,"v":-4.03},{"t":708.03,"v":-2.12},{"t":708.12,"v":-0.33},{"t":708.17,"v":-1.48},{"t":708.25,"v":-2.95},
      {"t":708.32,"v":-2.24},{"t":708.39,"v":-2.50},{"t":708.46,"v":-3.27},{"t":708.54,"v":-2.24},{"t":708.61,"v":-1.99},
      {"t":708.68,"v":-2.56},{"t":708.75,"v":-3.39},{"t":708.84,"v":-3.14},{"t":708.92,"v":-3.14},{"t":709.01,"v":-3.84},
      {"t":709.10,"v":-3.97},{"t":709.18,"v":-3.52},{"t":709.25,"v":-3.84},{"t":709.33,"v":-3.39},{"t":709.38,"v":-2.12},
      {"t":709.47,"v":-3.52},{"t":709.58,"v":-4.16},{"t":709.64,"v":-2.12},{"t":709.71,"v":-0.46},{"t":709.79,"v":-1.35},
      {"t":709.85,"v":0.05},{"t":709.90,"v":1.20},{"t":709.99,"v":0.62},{"t":710.05,"v":0.05},{"t":710.11,"v":1.20},
      {"t":710.19,"v":1.33},{"t":710.28,"v":2.09},{"t":710.37,"v":3.75},{"t":710.45,"v":1.71},{"t":710.54,"v":3.37},
      {"t":710.63,"v":4.39},{"t":710.69,"v":2.98},{"t":710.77,"v":4.32},{"t":710.86,"v":2.86},{"t":710.94,"v":1.71},
      {"t":711.00,"v":1.07},{"t":711.06,"v":2.22},{"t":711.13,"v":3.62},{"t":711.20,"v":4.90},{"t":711.26,"v":4.13},
      {"t":711.33,"v":2.60},{"t":711.40,"v":1.84},{"t":711.48,"v":3.05},{"t":711.56,"v":3.37},{"t":711.63,"v":5.73},
      {"t":711.71,"v":3.75},{"t":711.78,"v":4.07},{"t":711.86,"v":3.24},{"t":711.94,"v":2.47},{"t":712.01,"v":2.86},
      {"t":712.07,"v":0.56},{"t":712.12,"v":-0.71},{"t":712.19,"v":0.05},{"t":712.27,"v":-0.20},{"t":712.34,"v":-1.10},
      {"t":712.41,"v":-3.39},{"t":712.48,"v":-3.27},{"t":712.56,"v":-1.61},{"t":712.64,"v":-1.61},{"t":712.71,"v":-3.71},
      {"t":712.79,"v":-3.14},{"t":712.86,"v":-3.78},{"t":712.93,"v":-3.39},{"t":713.02,"v":-1.35},{"t":713.10,"v":-1.86},
      {"t":713.19,"v":-3.07},{"t":713.27,"v":-3.71},{"t":713.34,"v":0.05},{"t":713.42,"v":0.18},{"t":713.51,"v":0.05},
      {"t":713.57,"v":-2.24},{"t":713.64,"v":-4.03},{"t":713.71,"v":-4.03},{"t":713.79,"v":0.31},{"t":713.86,"v":0.43},
      {"t":713.94,"v":-0.20},{"t":714.02,"v":-3.65},{"t":714.09,"v":-0.20},{"t":714.17,"v":0.56},{"t":714.26,"v":-1.10},
      {"t":714.35,"v":-0.46},{"t":714.42,"v":-0.20},{"t":714.49,"v":0.82},{"t":714.58,"v":0.31},{"t":714.66,"v":-0.71},
      {"t":714.75,"v":-0.97},{"t":714.81,"v":0.82},{"t":714.88,"v":2.35},{"t":714.96,"v":3.37},{"t":715.04,"v":-0.71},
      {"t":715.11,"v":-3.71},{"t":715.18,"v":-0.20},{"t":715.25,"v":1.84},{"t":715.33,"v":2.73},{"t":715.41,"v":3.05},
      {"t":715.48,"v":2.47},{"t":715.56,"v":0.82},{"t":715.63,"v":-0.46},{"t":715.70,"v":0.31},{"t":715.77,"v":0.50},
      {"t":715.86,"v":0.56},{"t":715.93,"v":2.47},{"t":716.02,"v":2.73},{"t":716.11,"v":1.45},{"t":716.19,"v":2.47},
      {"t":716.27,"v":2.86},{"t":716.35,"v":4.26},{"t":716.42,"v":3.37},{"t":716.50,"v":1.71},{"t":716.58,"v":1.33},
      {"t":716.65,"v":3.75},{"t":716.73,"v":4.00},{"t":716.80,"v":1.07},{"t":716.87,"v":-0.46},{"t":716.94,"v":1.07},
      {"t":717.00,"v":1.84},{"t":717.08,"v":0.31},{"t":717.16,"v":-0.71},{"t":717.23,"v":1.96},{"t":717.31,"v":3.62},
      {"t":717.38,"v":1.07},{"t":717.43,"v":2.86},{"t":717.52,"v":2.86},{"t":717.59,"v":4.39},{"t":717.68,"v":3.62},
      {"t":717.77,"v":3.37},{"t":717.87,"v":3.62},{"t":717.94,"v":2.35},{"t":718.04,"v":2.09},{"t":718.15,"v":1.71},
      {"t":718.23,"v":0.43},{"t":718.30,"v":-0.71},{"t":718.38,"v":-1.10},{"t":718.47,"v":-0.59},{"t":718.54,"v":-1.73},
      {"t":718.62,"v":-3.01},{"t":718.69,"v":-4.03},{"t":718.77,"v":-2.88},{"t":718.85,"v":-3.39},{"t":718.90,"v":-4.03},
      {"t":718.98,"v":-4.48},{"t":719.05,"v":-2.24},{"t":719.12,"v":-1.35},{"t":719.19,"v":-4.03},{"t":719.27,"v":-5.63},
      {"t":719.34,"v":-4.80},{"t":719.42,"v":-4.92},{"t":719.54,"v":-5.11},{"t":719.63,"v":-3.14},{"t":719.69,"v":-4.03},
      {"t":719.77,"v":-3.14},{"t":719.86,"v":-3.52},{"t":719.94,"v":-4.41},{"t":720.00,"v":-3.65}
    ]
  },
  "encoding": {
    "x": {
      "field": "t",
      "type": "quantitative",
      "scale": {"domain": [675, 720], "nice": false, "zero": false},
      "axis": {
        "values": [680, 685, 690, 695, 700, 705, 710, 715, 720],
        "format": "d",
        "labelPadding": 14,
        "title": "t [yr]",
        "titleY": 207
      }
    }
  },
  "layer": [
    {
      "data": {"name": "note"},
      "mark": {"type": "text", "align": "left", "baseline": "alphabetic", "fontSize": 96, "color": "#bf00bf", "font": "DejaVu Sans"},
      "encoding": {
        "y": {"field": "v", "type": "quantitative", "scale": {"domain": [-1, 1], "nice": false}, "axis": null},
        "text": {"field": "label"}
      }
    },
    {
      "data": {"name": "mean"},
      "mark": {"type": "line", "color": "#bf00bf", "strokeWidth": 9, "strokeDash": [8, 14]},
      "encoding": {
        "y": {"field": "v", "type": "quantitative", "scale": {"domain": [-1, 1], "nice": false}, "axis": null}
      }
    },
    {
      "data": {"name": "polar"},
      "mark": {"type": "line", "color": "#00bfbf", "strokeWidth": 9, "strokeDash": [26, 11], "strokeJoin": "round"},
      "encoding": {
        "y": {
          "field": "v",
          "type": "quantitative",
          "scale": {"domain": [-1, 1], "nice": false},
          "axis": {
            "orient": "left",
            "values": [-1, -0.75, -0.5, -0.25, 0, 0.25, 0.5, 0.75, 1],
            "format": ".2f",
            "labelPadding": 17,
            "title": "P",
            "titleFontStyle": "italic",
            "titleAngle": 270,
            "titleAlign": "center",
            "titleX": -345,
            "titleY": 943
          }
        }
      }
    },
    {
      "data": {"name": "blue"},
      "mark": {"type": "line", "color": "#0000ff", "strokeWidth": 8, "strokeJoin": "round"},
      "encoding": {
        "y": {
          "field": "v",
          "type": "quantitative",
          "scale": {"domain": [-10, 10], "nice": false},
          "axis": {
            "orient": "right",
            "values": [-10, -7.5, -5, -2.5, 0, 2.5, 5, 7.5, 10],
            "format": ".1f",
            "labelPadding": 17,
            "title": "Bᵩ [kG]",
            "titleAngle": 270,
            "titleAlign": "center",
            "titleX": 400,
            "titleY": 943
          }
        }
      }
    },
    {
      "data": {"name": "red"},
      "mark": {"type": "line", "color": "#ff0000", "strokeWidth": 8, "strokeDash": [36, 10, 7, 10], "strokeJoin": "round"},
      "encoding": {
        "y": {"field": "v", "type": "quantitative", "scale": {"domain": [-10, 10], "nice": false}, "axis": null}
      }
    }
  ],
  "resolve": {"scale": {"y": "independent"}}
}
